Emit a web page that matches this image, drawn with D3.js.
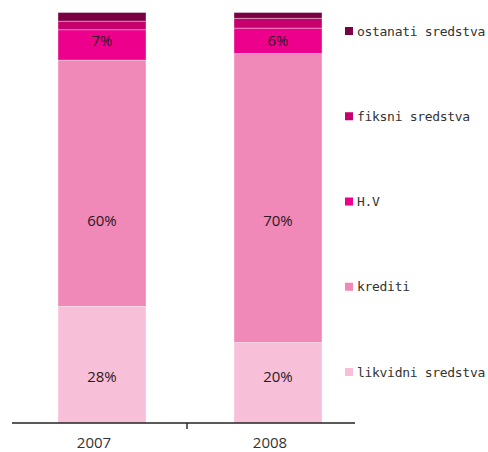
<!DOCTYPE html>
<html>
<head>
<meta charset="utf-8">
<script src="https://cdn.jsdelivr.net/npm/d3@7"></script>
<style>
  body { margin: 0; background: #fff; }
  svg { display: block; }
</style>
</head>
<body>
<svg id="chart"></svg>
<script>
// data (percent of total)
var years = ['2007', '2008'];
var series = ['likvidni sredstva', 'krediti', 'H.V', 'fiksni sredstva', 'ostanati sredstva'];
var likvidni = [28.4, 19.6];
var krediti = [60.0, 70.4];
var hv = [7.4, 6.2];
var fiksni = [2.1, 2.4];
var ostanati = [2.1, 1.4];
var shownLabels = ['likvidni sredstva', 'krediti', 'H.V']; // series that get % labels

var colors = ['#f8c0d8', '#f088b8', '#ec008c', '#c6006d', '#780043'];
// where the % labels sit, in percent of bar height (they are not centred in the original)
var labelAt = { 'likvidni sredstva': 11.2, 'krediti': 49.2, 'H.V': 93 };

function drawChart() {
  var W = 488, H = 452;
  var chart = d3.select('#chart').attr('width', W).attr('height', H);

  var table = years.map(function (yr, i) {
    return {
      year: yr,
      'likvidni sredstva': likvidni[i],
      'krediti': krediti[i],
      'H.V': hv[i],
      'fiksni sredstva': fiksni[i],
      'ostanati sredstva': ostanati[i]
    };
  });
  var stacked = d3.stack().keys(series)(table);

  var x = d3.scaleBand()
    .domain(years)
    .range([14, 366])
    .paddingInner(0.5)
    .paddingOuter(0.25);
  var y = d3.scaleLinear().domain([0, 100]).range([423, 12.5]);
  var color = d3.scaleOrdinal().domain(series).range(colors);

  // bars
  var layers = chart.selectAll('g.layer')
    .data(stacked).enter()
    .append('g')
    .classed('layer', true)
    .attr('fill', d => color(d.key));

  layers.selectAll('rect')
    .data(d => d).enter()
    .append('rect')
    .attr('x', d => x(d.data.year))
    .attr('width', x.bandwidth())
    .attr('y', d => y(d[1]))
    .attr('height', d => y(d[0]) - y(d[1]))
    .attr('stroke', 'rgba(255,255,255,0.45)')
    .attr('stroke-width', 0.8);

  // % labels
  var fmt = d3.format('.0f');
  layers.filter(d => shownLabels.indexOf(d.key) >= 0)
    .selectAll('text')
    .data(d => d.map(p => ({ key: d.key, p: p }))).enter()
    .append('text')
    .attr('x', d => x(d.p.data.year) + x.bandwidth() / 2)
    .attr('y', d => y(labelAt[d.key]))
    .attr('dy', '0.35em')
    .attr('text-anchor', 'middle')
    .attr('fill', '#2a1a22')
    .style('font-family', '"Open Sans", sans-serif')
    .style('font-size', '15px')
    .text(d => fmt(d.p[1] - d.p[0]) + '%');

  // category axis
  var axisY = 423;
  chart.append('line')
    .attr('x1', 12).attr('x2', 355)
    .attr('y1', axisY).attr('y2', axisY)
    .attr('stroke', '#222')
    .attr('stroke-width', 1.4);
  var mid = (x(years[0]) + x.bandwidth() + x(years[1])) / 2 - 3;
  chart.append('line')
    .attr('x1', mid).attr('x2', mid)
    .attr('y1', axisY).attr('y2', axisY + 6)
    .attr('stroke', '#222')
    .attr('stroke-width', 1.4);

  chart.selectAll('text.year')
    .data(years).enter()
    .append('text')
    .classed('year', true)
    .attr('x', d => x(d) + x.bandwidth() / 2 - 8)
    .attr('y', 443)
    .attr('dy', '0.35em')
    .attr('text-anchor', 'middle')
    .attr('fill', '#333')
    .style('font-family', '"Open Sans", sans-serif')
    .style('font-size', '15px')
    .text(d => d);

  // legend, top item is the top of the stack
  var legendOrder = series.slice().reverse();
  var ly = d3.scalePoint().domain(legendOrder).range([31, 372]);
  var legend = chart.selectAll('g.legend')
    .data(legendOrder).enter()
    .append('g')
    .classed('legend', true)
    .attr('transform', d => `translate(345, ${ly(d)})`);

  legend.append('rect')
    .attr('x', 0).attr('y', -4)
    .attr('width', 8).attr('height', 8)
    .attr('fill', d => color(d));

  legend.append('text')
    .attr('x', 12)
    .attr('y', 0)
    .attr('dy', '0.36em')
    .attr('fill', '#333')
    .style('font-family', '"DejaVu Sans Mono", monospace')
    .style('font-size', '13px')
    .style('letter-spacing', '-0.3px')
    .text(d => d);
}

drawChart();
</script>
</body>
</html>
